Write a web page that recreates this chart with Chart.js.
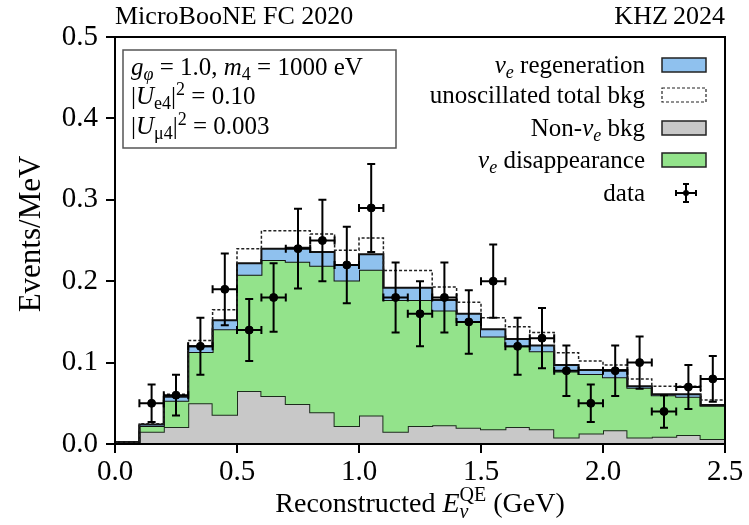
<!DOCTYPE html>
<html>
<head>
<meta charset="utf-8">
<script src="https://cdn.jsdelivr.net/npm/chart.js@4.4.0/dist/chart.umd.min.js"></script>
<style>
  html, body { margin: 0; padding: 0; background: #fff; }
</style>
</head>
<body>
<canvas id="myChart" width="749" height="525"></canvas>
<script>
// energy bins (GeV)
const binEdges = [0.0, 0.1, 0.2, 0.3, 0.4, 0.5, 0.6, 0.7, 0.8, 0.9, 1.0, 1.1, 1.2, 1.3,
                  1.4, 1.5, 1.6, 1.7, 1.8, 1.9, 2.0, 2.1, 2.2, 2.3, 2.4, 2.5];
const binCenters = [0.05, 0.15, 0.25, 0.35, 0.45, 0.55, 0.65, 0.75, 0.85, 0.95, 1.05, 1.15, 1.25,
                    1.35, 1.45, 1.55, 1.65, 1.75, 1.85, 1.95, 2.05, 2.15, 2.25, 2.35, 2.45];

// stacked components, Events/MeV
const nonNueBkg = [0.002, 0.015, 0.021, 0.050, 0.036, 0.065, 0.059, 0.049, 0.039, 0.022, 0.035, 0.015, 0.022,
                   0.023, 0.020, 0.018, 0.021, 0.018, 0.008, 0.013, 0.017, 0.008, 0.009, 0.011, 0.006];
const nueDisappearance = [0.000, 0.007, 0.032, 0.063, 0.105, 0.143, 0.167, 0.175, 0.180, 0.179, 0.179, 0.162, 0.155,
                          0.141, 0.130, 0.114, 0.099, 0.096, 0.081, 0.073, 0.065, 0.061, 0.051, 0.047, 0.041];
const nueRegeneration = [0.000, 0.002, 0.005, 0.007, 0.011, 0.014, 0.014, 0.017, 0.017, 0.019, 0.019, 0.015, 0.015,
                         0.013, 0.010, 0.009, 0.009, 0.007, 0.008, 0.005, 0.009, 0.002, 0.001, 0.003, 0.001];
const unoscTotal = [0.002, 0.025, 0.061, 0.127, 0.165, 0.240, 0.262, 0.262, 0.258, 0.238, 0.253, 0.213, 0.213,
                    0.193, 0.174, 0.155, 0.144, 0.137, 0.112, 0.102, 0.097, 0.080, 0.071, 0.071, 0.054];

// MicroBooNE FC data
const dataValues = [null, 0.050, 0.060, 0.120, 0.190, 0.140, 0.180, 0.240, 0.250, 0.220, 0.290, 0.180, 0.160,
                    0.180, 0.150, 0.200, 0.120, 0.130, 0.090, 0.050, 0.090, 0.100, 0.040, 0.070, 0.080];
const dataErrors = [null, 0.023, 0.025, 0.035, 0.044, 0.038, 0.042, 0.049, 0.050, 0.047, 0.054, 0.043, 0.040,
                    0.043, 0.039, 0.045, 0.035, 0.037, 0.031, 0.023, 0.031, 0.032, 0.020, 0.027, 0.028];

const xTicks = [0.0, 0.5, 1.0, 1.5, 2.0, 2.5];
const yTicks = [0.0, 0.1, 0.2, 0.3, 0.4, 0.5];

const SERIF = '"Liberation Serif", "Times New Roman", serif';
const GRAY = '#c8c8c8', GREEN = '#93e38b', BLUE = '#8fc1ee';

const grayTop = nonNueBkg;
const greenTop = nonNueBkg.map((v, i) => v + nueDisappearance[i]);
const blueTop = greenTop.map((v, i) => v + nueRegeneration[i]);

// histogram outline: one point per left edge plus the closing edge
function steps(vals) {
    let pts = vals.map((v, i) => ({x: binEdges[i], y: v}));
    pts.push({x: binEdges[vals.length], y: vals[vals.length - 1]});
    return pts;
}

// text with italic / sub / superscript pieces
function richText(ctx, parts, x, y, size, align) {
    const fontFor = p => (p.i ? 'italic ' : '') + Math.round(p.s ? size * 0.7 : size) + 'px ' + SERIF;
    let w = 0, held = 0;
    parts.forEach(p => {
        ctx.font = fontFor(p);
        let pw = ctx.measureText(p.t).width;
        if (p.hold) { held = pw; } else { w += Math.max(pw, held); held = 0; }
    });
    let cx = align === 'right' ? x - w : align === 'center' ? x - w / 2 : x;
    ctx.textAlign = 'left';
    ctx.textBaseline = 'alphabetic';
    held = 0;
    parts.forEach(p => {
        ctx.font = fontFor(p);
        let dy = p.s === 'sub' ? size * 0.2 : p.s === 'sup' ? -size * 0.38 : 0;
        ctx.fillText(p.t, cx, y + dy);
        let pw = ctx.measureText(p.t).width;
        if (p.hold) { held = pw; } else { cx += Math.max(pw, held); held = 0; }
    });
}

function drawErrorCross(ctx, x, y, x0, x1, y0, y1, cap) {
    ctx.beginPath();
    ctx.moveTo(x0, y); ctx.lineTo(x1, y);
    ctx.moveTo(x, y0); ctx.lineTo(x, y1);
    ctx.moveTo(x0, y - cap); ctx.lineTo(x0, y + cap);
    ctx.moveTo(x1, y - cap); ctx.lineTo(x1, y + cap);
    ctx.moveTo(x - cap, y0); ctx.lineTo(x + cap, y0);
    ctx.moveTo(x - cap, y1); ctx.lineTo(x + cap, y1);
    ctx.stroke();
}

const errorBars = {
    id: 'errorBars',
    afterDatasetsDraw(chart) {
        const ctx = chart.ctx, xs = chart.scales.x, ys = chart.scales.y;
        ctx.save();
        ctx.strokeStyle = '#000';
        ctx.lineWidth = 2;
        binCenters.forEach((c, i) => {
            if (dataValues[i] === null) return;
            const px = xs.getPixelForValue(c), py = ys.getPixelForValue(dataValues[i]);
            drawErrorCross(ctx, px, py,
                xs.getPixelForValue(binEdges[i]), xs.getPixelForValue(binEdges[i + 1]),
                ys.getPixelForValue(dataValues[i] + dataErrors[i]), ys.getPixelForValue(dataValues[i] - dataErrors[i]), 4);
        });
        ctx.restore();
    }
};

const decorations = {
    id: 'decorations',
    afterDraw(chart) {
        const ctx = chart.ctx, a = chart.chartArea;
        ctx.save();
        ctx.fillStyle = '#000';

        // frame
        ctx.strokeStyle = '#000';
        ctx.lineWidth = 2;
        ctx.strokeRect(a.left, a.top, a.right - a.left, a.bottom - a.top);

        // header
        richText(ctx, [{t: 'MicroBooNE FC 2020'}], a.left, 24, 26, 'left');
        richText(ctx, [{t: 'KHZ\u20092024'}], a.right, 24, 26, 'right');

        // axis titles
        richText(ctx, [{t: 'Reconstructed '}, {t: 'E', i: true}, {t: '\u03bd', i: true, s: 'sub', hold: true},
                       {t: 'QE', s: 'sup'}, {t: ' (GeV)'}], (a.left + a.right) / 2, 512, 28, 'center');
        ctx.save();
        ctx.translate(40, 234);
        ctx.rotate(-Math.PI / 2);
        richText(ctx, [{t: 'Events/MeV'}], 0, 0, 31, 'center');
        ctx.restore();

        // parameter box
        ctx.strokeStyle = '#555';
        ctx.lineWidth = 1.5;
        ctx.strokeRect(123, 50, 273, 98);
        richText(ctx, [{t: 'g', i: true}, {t: '\u03c6', i: true, s: 'sub'}, {t: ' = 1.0, '},
                       {t: 'm', i: true}, {t: '4', s: 'sub'}, {t: ' = 1000 eV'}], 131, 75, 25, 'left');
        richText(ctx, [{t: '|'}, {t: 'U', i: true}, {t: 'e4', s: 'sub'}, {t: '|'}, {t: '2', s: 'sup'},
                       {t: ' = 0.10'}], 131, 104, 25, 'left');
        richText(ctx, [{t: '|'}, {t: 'U', i: true}, {t: '\u03bc4', s: 'sub'}, {t: '|'}, {t: '2', s: 'sup'},
                       {t: ' = 0.003'}], 131, 134, 25, 'left');

        // legend
        const textRight = 645, boxL = 662, boxW = 44, boxH = 14;
        const rows = [
            {y: 65, label: [{t: '\u03bd', i: true}, {t: 'e', i: true, s: 'sub'}, {t: ' regeneration'}], fill: BLUE},
            {y: 95, label: [{t: 'unoscillated total bkg'}], fill: null},
            {y: 128, label: [{t: 'Non-'}, {t: '\u03bd', i: true}, {t: 'e', i: true, s: 'sub'}, {t: ' bkg'}], fill: GRAY},
            {y: 160, label: [{t: '\u03bd', i: true}, {t: 'e', i: true, s: 'sub'}, {t: ' disappearance'}], fill: GREEN},
            {y: 193, label: [{t: 'data'}], fill: 'data'}
        ];
        rows.forEach(r => {
            ctx.fillStyle = '#000';
            richText(ctx, r.label, textRight, r.y + 8, 25, 'right');
            if (r.fill === 'data') {
                ctx.strokeStyle = '#000';
                ctx.lineWidth = 2;
                drawErrorCross(ctx, 686, r.y, 676, 696, r.y - 9, r.y + 9, 3);
                ctx.beginPath();
                ctx.arc(686, r.y, 3, 0, Math.PI * 2);
                ctx.fill();
            } else if (r.fill) {
                ctx.fillStyle = r.fill;
                ctx.fillRect(boxL, r.y - boxH / 2, boxW, boxH);
                ctx.strokeStyle = '#222';
                ctx.lineWidth = 1.5;
                ctx.setLineDash([]);
                ctx.strokeRect(boxL, r.y - boxH / 2, boxW, boxH);
            } else {
                ctx.strokeStyle = '#222';
                ctx.lineWidth = 1.2;
                ctx.setLineDash([3, 2]);
                ctx.strokeRect(boxL, r.y - boxH / 2, boxW, boxH);
                ctx.setLineDash([]);
            }
        });
        ctx.restore();
    }
};

const stepStyle = {stepped: true, pointRadius: 0, borderWidth: 2};

new Chart(document.getElementById('myChart'), {
    type: 'line',
    data: {
        datasets: [
            Object.assign({label: 'Non-nue bkg', data: steps(grayTop), fill: 'origin',
                backgroundColor: GRAY, borderColor: '#1d2b1d', order: 4}, stepStyle),
            Object.assign({label: 'nue disappearance', data: steps(greenTop), fill: '-1',
                backgroundColor: GREEN, borderColor: '#111', order: 3}, stepStyle),
            Object.assign({label: 'nue regeneration', data: steps(blueTop), fill: '-1',
                backgroundColor: BLUE, borderColor: '#111', order: 2}, stepStyle),
            Object.assign({label: 'unoscillated total bkg', data: steps(unoscTotal), fill: false,
                borderColor: '#222', order: 1}, stepStyle, {borderWidth: 1.5, borderDash: [3, 2]}),
            {
                label: 'data',
                data: binCenters.map((c, i) => ({x: c, y: dataValues[i]})),
                showLine: false,
                pointRadius: 4,
                pointBackgroundColor: '#000',
                pointBorderColor: '#000',
                order: 0
            }
        ]
    },
    options: {
        responsive: false,
        animation: false,
        layout: {padding: {top: 37, right: 24, left: 0, bottom: 0}},
        plugins: {legend: {display: false}, tooltip: {enabled: false}, title: {display: false}},
        scales: {
            x: {
                type: 'linear', min: 0, max: 2.5,
                afterBuildTicks: s => { s.ticks = xTicks.map(v => ({value: v})); },
                afterFit: s => { s.height = 81; },
                ticks: {color: '#000', font: {family: SERIF, size: 29}, padding: 2,
                        maxRotation: 0, callback: v => v.toFixed(1)},
                grid: {display: true, drawOnChartArea: false, drawTicks: true, tickLength: 9,
                       color: '#000', lineWidth: 2},
                border: {display: true, color: '#000', width: 2}
            },
            y: {
                min: 0, max: 0.5,
                afterBuildTicks: s => { s.ticks = yTicks.map(v => ({value: v})); },
                afterFit: s => { s.width = 115; },
                ticks: {color: '#000', font: {family: SERIF, size: 29}, padding: 8,
                        callback: v => v.toFixed(1)},
                grid: {display: true, drawOnChartArea: false, drawTicks: true, tickLength: 9,
                       color: '#000', lineWidth: 2},
                border: {display: true, color: '#000', width: 2}
            }
        }
    },
    plugins: [errorBars, decorations]
});
</script>
</body>
</html>
